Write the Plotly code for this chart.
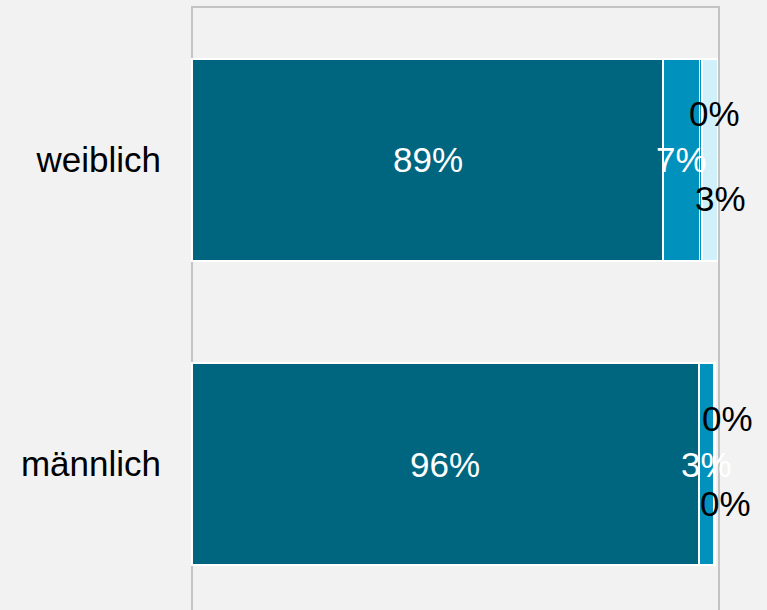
import plotly.graph_objects as go

categories = ["weiblich", "männlich"]
series_names = ["Serie 1", "Serie 2", "Serie 3", "Serie 4"]
series_values = [
    [89.4, 96.2],   # series 1
    [6.9, 2.8],     # series 2
    [0.5, 0.1],     # series 3
    [2.9, 0.1],     # series 4
]
colors = ["#00667f", "#0092bd", "#0092bd", "#d0f0fa"]

ypos = list(range(len(categories)))
fig = go.Figure()
for name, vals, col in zip(series_names, series_values, colors):
    fig.add_trace(go.Bar(
        y=ypos, x=vals, name=name, orientation="h",
        width=0.664,
        marker=dict(color=col, line=dict(color="white", width=1.5)),
        hoverinfo="skip", showlegend=False,
    ))

annotations = []
font_family = "Arial, Liberation Sans, sans-serif"
for ci, cat in enumerate(categories):
    cum = 0.0
    for si, vals in enumerate(series_values):
        v = vals[ci]
        center = cum + v / 2
        cum += v
        label = f"{round(v)}%"
        if si < 2:
            annotations.append(dict(x=center, y=ci, text=label, showarrow=False,
                                    xref="x", yref="y",
                                    font=dict(color="white", size=35, family=font_family)))
        else:
            annotations.append(dict(x=center, y=ci, text=label, showarrow=False,
                                    xref="x", yref="y",
                                    xshift=14 if si == 2 else 11,
                                    yshift=46 if si == 2 else -39,
                                    font=dict(color="black", size=35, family=font_family)))

fig.add_shape(type="rect", xref="x", yref="y", x0=0, x1=100, y0=-0.503, y1=2.5,
              line=dict(color="#c3c3c3", width=2), fillcolor="rgba(0,0,0,0)", layer="below")

fig.update_layout(
    width=767, height=610,
    barmode="stack",
    paper_bgcolor="#f2f2f2", plot_bgcolor="#f2f2f2",
    margin=dict(l=190, r=46, t=0, b=0),
    font=dict(family=font_family, size=35, color="black"),
    annotations=annotations,
    xaxis=dict(range=[-0.38, 100.38], showgrid=False, zeroline=False,
               showticklabels=False, ticks=""),
    yaxis=dict(range=[1.480, -0.526], tickvals=ypos, ticktext=categories,
               showgrid=False, zeroline=False, ticks="", ticklabelstandoff=28,
               tickfont=dict(size=35, color="black", family=font_family)),
)

fig.write_html("out.html", config={"displayModeBar": False},
               post_script="document.body.style.margin='0';document.body.style.overflow='hidden';document.body.style.background='#f2f2f2';")
